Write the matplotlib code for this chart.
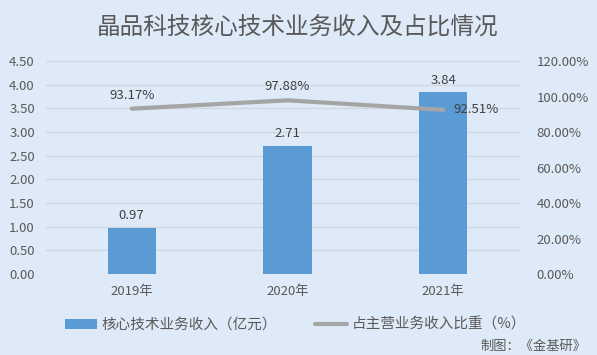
import matplotlib.pyplot as plt
import numpy as np

plt.rcParams['font.family'] = ['Noto Sans CJK SC', 'DejaVu Sans']

years = ['2019年', '2020年', '2021年']
revenue = [0.97, 2.71, 3.84]
share = [93.17, 97.88, 92.51]
bar_labels = ['0.97', '2.71', '3.84']
share_labels = ['93.17%', '97.88%', '92.51%']

bg = '#DEEAF7'
txt = '#595959'

fig = plt.figure(figsize=(5.97, 3.55), dpi=100, facecolor=bg)
ax = fig.add_axes([0.077, 0.228, 0.796, 0.6], facecolor=bg)
ax2 = ax.twinx()

x = np.arange(len(years))
ax.bar(x, revenue, width=0.31, color='#5B9BD5', zorder=2, label='核心技术业务收入（亿元）')
ax2.plot(x, share, color='#A5A5A5', lw=3, solid_capstyle='round', zorder=3,
         label='占主营业务收入比重（%）')

ax.set_xlim(-0.55, 2.5)
ax.set_ylim(0, 4.5)
ax.set_yticks(np.arange(0, 4.51, 0.5))
ax.set_yticklabels([f'{v:.2f}' for v in np.arange(0, 4.51, 0.5)])
ax2.set_ylim(0, 120)
ax2.set_yticks(np.arange(0, 121, 20))
ax2.set_yticklabels([f'{v:.2f}%' for v in np.arange(0, 121, 20)])

ax.set_xticks(x)
ax.set_xticklabels(years)
ax.grid(axis='y', color='#D0D7DF', lw=1, zorder=0)
for a in (ax, ax2):
    for s in a.spines.values():
        s.set_visible(False)
    a.tick_params(length=0, labelsize=9.5, labelcolor=txt)
ax.tick_params(axis='x', pad=8)
ax.tick_params(axis='y', pad=8)
ax2.tick_params(axis='y', pad=11)
ax.set_zorder(ax2.get_zorder() - 1)
ax2.patch.set_visible(False)

for i, v in enumerate(revenue):
    ax.text(x[i], v + 0.12, bar_labels[i], ha='center', va='bottom', fontsize=9.5, color='#404040')
# label offsets (points) and alignment for the share line
offsets = [(0, 5, 'center', 'bottom'), (0, 5, 'center', 'bottom'), (7, 0, 'left', 'center')]
for i, v in enumerate(share):
    dx, dy, ha, va = offsets[i]
    ax2.annotate(share_labels[i], (x[i], v), xytext=(dx, dy), textcoords='offset points',
                 ha=ha, va=va, fontsize=9.5, color='#404040')

fig.text(0.498, 0.92, '晶品科技核心技术业务收入及占比情况', ha='center', va='center',
         fontsize=17, color=txt)

h1, l1 = ax.get_legend_handles_labels()
h2, l2 = ax2.get_legend_handles_labels()
fig.legend(h1 + h2, l1 + l2, loc='center', bbox_to_anchor=(0.495, 0.085), ncol=2,
           frameon=False, fontsize=10.5, labelcolor=txt, handlelength=2.2,
           handletextpad=0.3, columnspacing=2.6, handleheight=0.7)

fig.text(0.982, 0.025, '制图：《金基研》', ha='right', va='center', fontsize=9.5, color=txt)

fig.savefig('out.png', dpi=100, facecolor=bg)
